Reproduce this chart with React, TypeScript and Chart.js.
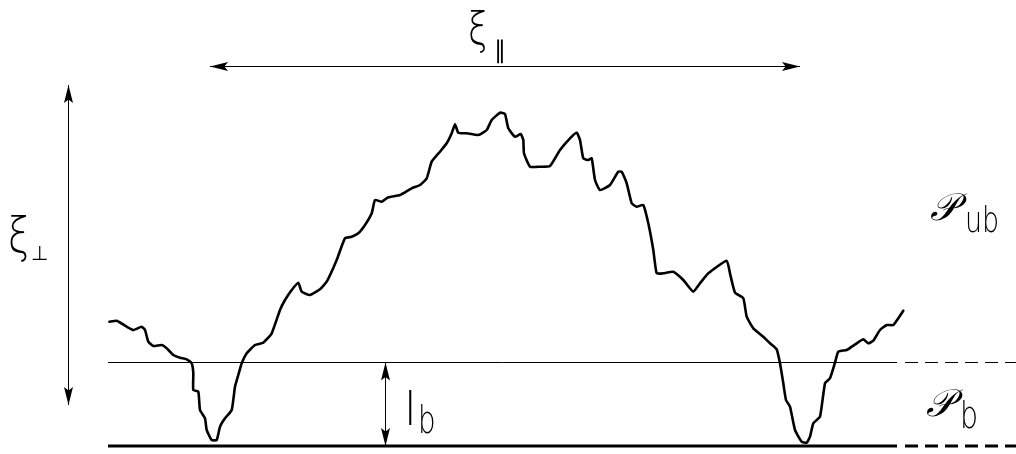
import React, { useEffect, useRef } from "react";
import { Chart, registerables } from "chart.js";

Chart.register(...registerables);

const W = 1016;
const H = 454;

// Interface profile: horizontal position and height above the binding wall
const profileX = [
  109.3, 116.7, 126.7, 133.3, 141.7, 145, 148.3, 153.3, 161.7, 166.7, 173.3, 180, 186.7, 191.7, 193.3, 193.3,
  198.3, 200, 205, 206.7, 211.7, 216.7, 220, 225, 231.7, 235, 238.3, 241.7, 246.7, 255, 263.3, 271.7, 280, 285,
  291.7, 298.3, 301.7, 310, 320, 326.7, 336.7, 345, 351.7, 358.3, 365, 371.7, 375, 381.7, 388.3, 400, 411.7, 420,
  426.7, 431.7, 440, 446.7, 451.7, 455, 458.3, 466.7, 478.3, 486.7, 491.7, 500, 505, 508.3, 515, 520.7, 523.3, 524,
  530, 540, 550, 560, 570, 576.7, 580, 583.3, 588.3, 591.7, 595, 600, 610, 618.3, 621.7, 626.7, 631.7, 636.7, 643.3,
  648.3, 653.3, 656.7, 663.3, 673.3, 683.3, 693.3, 700, 708.3, 726.7, 730, 735, 743.3, 746.7, 753.3, 763.3, 770,
  776.7, 780, 783.3, 786, 790, 795, 801.7, 806.7, 810, 813.3, 820, 825, 830, 835, 838.3, 846.7, 851.7, 856.7, 863.3,
  868.3, 873.3, 880, 886.7, 893.3, 903.3,
];
const profileH = [
  124.3, 125.3, 119.3, 116, 119.3, 116, 104.3, 100, 101, 97.7, 91, 88.3, 86.7, 82.7, 72.7, 56,
  54.3, 36, 27.7, 16, 6, 6, 19.3, 27.7, 36, 59.3, 71, 82.7, 92.7, 101, 103.3, 112.7, 136, 146,
  156, 163.3, 154.3, 151, 156.7, 164.3, 186, 207.7, 209.3, 212.7, 221, 232.7, 246, 244.3, 248.7, 251, 257.7, 261,
  267.7, 284.3, 294.3, 302.7, 312.7, 321.7, 313.3, 312.7, 311, 316, 326, 333.3, 332, 317.7, 309.3, 312, 306, 292.7,
  279.3, 279.3, 280, 296, 307.7, 313.3, 306, 287.7, 286, 287.7, 266, 256, 261, 274.3, 274.3, 262.7, 242.7, 239.3, 241,
  222.7, 196, 172.7, 172.7, 174.3, 166, 154.3, 162.7, 172.7, 185.3, 172.7, 153.3, 147.7, 129.3, 117.7, 109.3, 102.7,
  96.7, 82.7, 62.7, 46, 39.3, 16, 4.3, 3.3, 9.3, 22.7, 29.3, 62.7, 67.7, 83.3, 94.3, 96, 99.3, 102.7, 106.7,
  102.7, 105.3, 116, 121, 121, 135.3,
];

// Reference levels: binding wall and binding range l_b
const wallH = 0;
const levelH = 83.5;
const solidX = [108, 897];
const dashedX = [905, 1016];

// Arrows (ξ∥, ξ⊥, l_b)
const parX = [210, 800];
const parH = 379.5;
const perpX = 68.5;
const perpH = [361, 41];
const lbX = 385.5;
const lbH = [83.5, 0];

// Text labels
const labelText = ["ξ", "∥", "ξ", "⊥", "𝒫", "ub", "𝒫", "b", "l", "b"];
const labelX = [468, 494, 8, 31, 930, 965, 926, 960, 404, 418];
const labelH = [402, 388, 194, 186, 226, 214, 30, 18, 21, 13];
const labelSize = [44, 24, 48, 20, 38, 36, 38, 38, 46, 37];
const labelSx = [0.8, 1, 0.8, 1, 1, 0.75, 1, 0.75, 1, 0.75];
const labelFont = ["sans", "sans", "sans", "sans", "script", "sans", "script", "sans", "sans", "sans"];

const pts = (xs: number[], ys: number[]) => xs.map((x, i) => ({ x, y: ys[i] }));

const arrowPlugin = {
  id: "arrowHeads",
  afterDatasetsDraw(chart: any) {
    const ctx = chart.ctx;
    chart.data.datasets.forEach((ds: any, i: number) => {
      if (!ds.arrow) return;
      const meta = chart.getDatasetMeta(i);
      const p = meta.data;
      if (p.length < 2) return;
      const draw = (tip: any, from: any) => {
        const ang = Math.atan2(tip.y - from.y, tip.x - from.x);
        const len = 18;
        const hw = 4.5;
        ctx.save();
        ctx.translate(tip.x, tip.y);
        ctx.rotate(ang);
        ctx.beginPath();
        ctx.moveTo(0, 0);
        ctx.lineTo(-len, -hw);
        ctx.lineTo(-len * 0.8, 0);
        ctx.lineTo(-len, hw);
        ctx.closePath();
        ctx.fillStyle = "#000";
        ctx.fill();
        ctx.restore();
      };
      draw(p[0], p[1]);
      draw(p[p.length - 1], p[p.length - 2]);
    });
  },
};

const labelPlugin = {
  id: "labels",
  afterDraw(chart: any) {
    const ctx = chart.ctx;
    const xs = chart.scales.x;
    const ys = chart.scales.y;
    labelText.forEach((t, i) => {
      const px = xs.getPixelForValue(labelX[i]);
      const py = ys.getPixelForValue(labelH[i]);
      ctx.save();
      ctx.fillStyle = "#000";
      ctx.textBaseline = "alphabetic";
      ctx.textAlign = "left";
      ctx.font =
        labelFont[i] === "script"
          ? `italic ${labelSize[i]}px 'DejaVu Serif', 'Liberation Serif', serif`
          : `200 ${labelSize[i]}px 'DejaVu Sans', sans-serif`;
      ctx.translate(px, py);
      ctx.scale(labelSx[i], 1);
      ctx.fillText(t, 0, 0);
      ctx.restore();
    });
  },
};

export default function App() {
  const ref = useRef<HTMLCanvasElement | null>(null);
  useEffect(() => {
    if (!ref.current) return;
    const line = (data: any[], width: number, dash: number[] = [], extra: any = {}) => ({
      type: "line",
      data,
      borderColor: "#000",
      borderWidth: width,
      borderDash: dash,
      pointRadius: 0,
      fill: false,
      tension: 0,
      ...extra,
    });
    const chart = new Chart(ref.current, {
      type: "line",
      data: {
        datasets: [
          line(pts(solidX, [wallH, wallH]), 3),
          line(pts(dashedX, [wallH, wallH]), 3, [13, 7]),
          line(pts(solidX, [levelH, levelH]), 1),
          line(pts(dashedX, [levelH, levelH]), 1, [13, 7]),
          line(pts(profileX, profileH), 2.6, [], { tension: 0.15, borderJoinStyle: "round", borderCapStyle: "round" }),
          line(pts(parX, [parH, parH]), 1, [], { arrow: true }),
          line(pts([perpX, perpX], perpH), 1, [], { arrow: true }),
          line(pts([lbX, lbX], lbH), 1, [], { arrow: true }),
        ] as any,
      },
      options: {
        animation: false,
        responsive: false,
        maintainAspectRatio: false,
        layout: { padding: 0 },
        plugins: { legend: { display: false }, tooltip: { enabled: false }, title: { display: false } },
        scales: {
          x: { type: "linear", min: 0, max: W, display: false },
          y: { type: "linear", min: -8, max: 446, display: false },
        },
      },
      plugins: [arrowPlugin, labelPlugin],
    } as any);
    return () => chart.destroy();
  }, []);
  return (
    <div style={{ position: "fixed", left: 0, top: 0, width: W, height: H, background: "#fff" }}>
      <canvas ref={ref} width={W} height={H} style={{ width: W, height: H, display: "block" }} />
    </div>
  );
}
